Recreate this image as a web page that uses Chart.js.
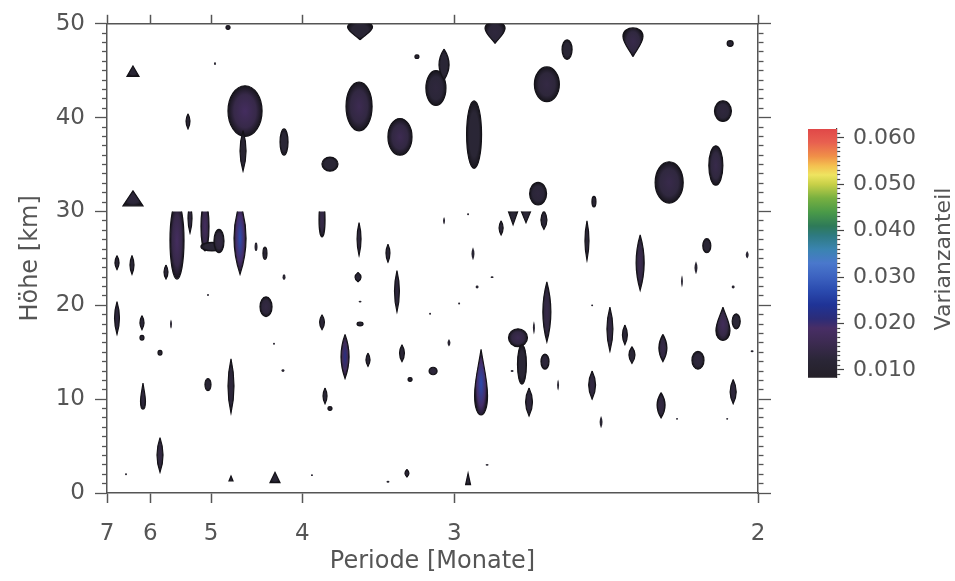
<!DOCTYPE html>
<html>
<head>
<meta charset="utf-8">
<script src="https://cdn.jsdelivr.net/npm/chart.js@4.4.1/dist/chart.umd.min.js"></script>
<style>
  html, body { margin: 0; padding: 0; background: #fff; }
  #wrap { position: relative; width: 955px; height: 581px; }
  #haupt { position: absolute; left: 0; top: 0; }
  #skala { position: absolute; left: 790px; top: 100px; }
</style>
</head>
<body>
<div id="wrap">
  <canvas id="haupt" width="955" height="581"></canvas>
  <canvas id="skala" width="165" height="300"></canvas>
</div>
<script>
// Achsen
var perioden = [7, 6, 5, 4, 3, 2];              // Periode [Monate], x-Achse linear in 1/Periode
var hoehenMin = 0, hoehenMax = 50;              // Höhe [km]
var skalaTicks = [0.010, 0.020, 0.030, 0.040, 0.050, 0.060];
var skalaMin = 0.0083, skalaMax = 0.0619;

// Farbskala Varianzanteil
var skalaWerte  = [0.0083, 0.012, 0.016, 0.019, 0.021, 0.024, 0.027, 0.030, 0.033, 0.036,
                   0.039, 0.041, 0.044, 0.047, 0.050, 0.052, 0.054, 0.056, 0.059, 0.0619];
var skalaFarben = ['#242028', '#2a2636', '#3d2b52', '#482e66', '#2c2c78', '#1f3396', '#2a4aae', '#3c62c0', '#4a78cc', '#3a84b0',
                   '#2e7a80', '#2e7a58', '#4a9a48', '#78b040', '#c8d048', '#eee460', '#f4c050', '#f09048', '#e86050', '#e04848'];

// Konturflecken (Varianzanteil > 0.010): Periode [Monate], Höhe unten/oben [km], Breite [1/Monat], Wert, Umriss
var fleckPeriode = [6.365, 5.339, 4.575, 4.598, 4.167, 6.365, 4.948, 3.550, 2.811, 2.530,
  3.196, 3.093, 3.051, 3.557, 3.294, 2.905, 2.603, 3.771, 2.636, 2.439,
  2.318, 2.063, 2.080, 2.097, 2.216, 4.779, 5.517, 5.308, 5.086, 4.989,
  4.895, 4.633, 4.452, 4.357, 4.167, 6.741, 6.387, 5.707, 6.741, 6.171,
  6.171, 5.816, 5.619, 6.150, 5.816, 5.044, 4.742, 4.742, 4.346, 4.255,
  6.524, 5.044, 4.177, 4.265, 3.917, 3.834, 3.557, 3.367, 3.564, 3.312,
  3.051, 2.933, 2.910, 2.824, 2.891, 2.735, 2.683, 2.785, 2.614, 2.462,
  2.603, 3.834, 3.550, 3.550, 3.657, 3.496, 3.282, 3.235, 3.108, 3.026,
  3.124, 2.976, 2.873, 2.715, 2.699, 2.652, 2.610, 2.562, 2.671, 2.739,
  3.810, 3.771, 2.445, 2.416, 2.388, 2.445, 3.253, 3.367, 2.933, 2.846,
  2.297, 2.119, 2.146, 2.182, 2.024, 2.056, 2.342, 2.321, 2.233, 2.141,
  2.080, 2.049, 2.238, 2.056, 2.195, 2.070, 2.013];
var fleckUnten = [44.4, 38.8, 38.0, 34.3, 36.0, 30.6, 45.6, 48.3, 47.9, 46.2,
  46.3, 41.3, 44.0, 38.6, 36.0, 34.6, 41.7, 34.3, 30.7, 30.5,
  46.5, 47.6, 39.6, 32.8, 30.9, 49.4, 22.8, 27.7, 25.8, 25.8,
  25.6, 23.3, 25.8, 24.9, 22.7, 23.8, 23.3, 22.8, 16.9, 17.4,
  16.3, 14.7, 17.5, 8.8, 2.2, 10.9, 8.5, 1.3, 18.8, 1.1,
  1.9, 21.0, 12.9, 15.8, 1.8, 27.3, 25.3, 24.6, 22.5, 19.3,
  28.6, 29.6, 24.8, 22.9, 21.8, 28.6, 28.8, 27.5, 28.1, 24.8,
  16.1, 17.4, 20.3, 17.8, 12.2, 13.5, 14.0, 11.9, 12.6, 15.6,
  19.0, 20.1, 8.0, 15.6, 11.6, 16.9, 13.2, 10.9, 8.2, 12.9,
  9.5, 8.8, 10.0, 6.9, 15.1, 19.9, 1.7, 1.1, 0.9, 2.9,
  21.6, 25.6, 23.3, 21.9, 25.0, 21.8, 15.8, 13.8, 14.0, 13.2,
  16.1, 17.5, 8.0, 9.5, 7.8, 7.8, 15.0];
var fleckOben = [45.5, 40.4, 43.4, 38.6, 38.8, 32.2, 45.9, 50.3, 50.3, 48.3,
  46.7, 45.0, 47.3, 43.8, 39.9, 41.8, 45.4, 35.8, 33.1, 31.6,
  49.7, 48.2, 41.8, 37.0, 35.3, 49.8, 31.0, 30.8, 31.0, 26.7,
  28.1, 31.0, 26.7, 26.2, 23.3, 25.3, 25.3, 24.3, 20.4, 18.9,
  16.8, 15.2, 18.5, 11.7, 5.9, 12.2, 14.3, 1.8, 20.9, 2.2,
  2.1, 21.2, 13.2, 16.0, 2.0, 31.0, 28.8, 26.5, 23.5, 23.7,
  29.4, 29.8, 26.2, 23.1, 22.1, 30.1, 30.1, 29.0, 30.1, 29.0,
  22.5, 19.0, 20.5, 18.2, 16.9, 14.9, 15.8, 12.3, 13.4, 16.4,
  19.2, 20.3, 15.3, 17.5, 15.8, 18.3, 14.8, 12.1, 11.2, 13.1,
  11.2, 9.2, 13.0, 8.2, 19.8, 20.1, 2.5, 1.3, 2.1, 3.1,
  27.5, 27.1, 24.7, 23.2, 25.8, 22.1, 17.9, 15.6, 16.9, 15.1,
  19.8, 19.1, 10.7, 12.1, 8.0, 8.0, 15.2];
var fleckBreite = [0.0066, 0.0022, 0.0187, 0.0033, 0.0044, 0.0110, 0.0011, 0.0137, 0.0110, 0.0055,
  0.0022, 0.0110, 0.0055, 0.0143, 0.0132, 0.0082, 0.0137, 0.0088, 0.0093, 0.0022,
  0.0110, 0.0033, 0.0093, 0.0077, 0.0154, 0.0022, 0.0077, 0.0022, 0.0044, 0.0121,
  0.0055, 0.0066, 0.0016, 0.0022, 0.0016, 0.0022, 0.0022, 0.0022, 0.0027, 0.0022,
  0.0022, 0.0022, 0.0011, 0.0027, 0.0033, 0.0033, 0.0033, 0.0022, 0.0066, 0.0055,
  0.0011, 0.0011, 0.0016, 0.0011, 0.0011, 0.0033, 0.0022, 0.0022, 0.0033, 0.0027,
  0.0011, 0.0011, 0.0016, 0.0016, 0.0016, 0.0055, 0.0055, 0.0022, 0.0033, 0.0022,
  0.0044, 0.0027, 0.0016, 0.0033, 0.0044, 0.0022, 0.0027, 0.0022, 0.0044, 0.0016,
  0.0011, 0.0011, 0.0071, 0.0104, 0.0049, 0.0011, 0.0044, 0.0011, 0.0038, 0.0016,
  0.0022, 0.0022, 0.0038, 0.0016, 0.0033, 0.0011, 0.0022, 0.0016, 0.0027, 0.0016,
  0.0044, 0.0044, 0.0016, 0.0011, 0.0016, 0.0016, 0.0027, 0.0033, 0.0044, 0.0066,
  0.0077, 0.0044, 0.0044, 0.0033, 0.0011, 0.0011, 0.0016];
var fleckWert = [0.012, 0.011, 0.018, 0.011, 0.012, 0.013, 0.010, 0.012, 0.013, 0.012,
  0.011, 0.013, 0.012, 0.016, 0.016, 0.012, 0.014, 0.012, 0.013, 0.011,
  0.015, 0.011, 0.013, 0.015, 0.015, 0.011, 0.018, 0.013, 0.018, 0.012,
  0.014, 0.027, 0.011, 0.011, 0.011, 0.012, 0.012, 0.012, 0.013, 0.012,
  0.011, 0.011, 0.010, 0.013, 0.014, 0.012, 0.013, 0.011, 0.014, 0.012,
  0.010, 0.010, 0.011, 0.010, 0.010, 0.015, 0.013, 0.012, 0.012, 0.013,
  0.010, 0.010, 0.011, 0.010, 0.011, 0.012, 0.012, 0.012, 0.012, 0.012,
  0.015, 0.012, 0.010, 0.011, 0.022, 0.012, 0.012, 0.011, 0.013, 0.011,
  0.010, 0.010, 0.027, 0.016, 0.012, 0.010, 0.013, 0.010, 0.013, 0.010,
  0.012, 0.011, 0.014, 0.011, 0.014, 0.010, 0.012, 0.010, 0.012, 0.010,
  0.016, 0.012, 0.011, 0.011, 0.011, 0.010, 0.012, 0.012, 0.015, 0.013,
  0.017, 0.012, 0.014, 0.013, 0.010, 0.010, 0.010];
// e = Ellipse, s = Spindel, t = Dreieck, u = Dreieck nach unten, v = Tropfen nach unten, a = Tropfen nach oben
var fleckForm = ['t','s','e','s','e','t','e','v','v','e',
  'e','e','s','e','e','e','e','e','e','e',
  'v','e','e','e','e','e','e','s','e','e',
  'e','s','e','e','e','s','s','s','s','s',
  'e','e','s','a','s','e','s','t','e','t',
  'e','e','e','e','e','e','s','s','s','s',
  's','e','s','e','e','u','u','s','s','s',
  's','s','e','e','s','s','s','e','e','s',
  'e','e','a','e','e','s','e','s','s','e',
  's','e','s','s','s','e','s','e','t','e',
  's','e','s','s','s','e','s','s','s','e',
  'a','e','s','s','e','e','e'];

var schrift = 'DejaVu Sans';
var grau = '#555';

function hexRgb(h) {
  return [parseInt(h.substr(1, 2), 16), parseInt(h.substr(3, 2), 16), parseInt(h.substr(5, 2), 16)];
}

// Farbe zum Varianzanteil aus der Farbskala
function farbe(v) {
  if (v <= skalaWerte[0]) return skalaFarben[0];
  for (var i = 1; i < skalaWerte.length; i++) {
    if (v <= skalaWerte[i]) {
      var t = (v - skalaWerte[i - 1]) / (skalaWerte[i] - skalaWerte[i - 1]);
      var a = hexRgb(skalaFarben[i - 1]), b = hexRgb(skalaFarben[i]);
      return 'rgb(' + Math.round(a[0] + (b[0] - a[0]) * t) + ',' + Math.round(a[1] + (b[1] - a[1]) * t) + ',' + Math.round(a[2] + (b[2] - a[2]) * t) + ')';
    }
  }
  return skalaFarben[skalaFarben.length - 1];
}

// Umriss im Einheitsquadrat [-1,1]
function formPfad(ctx, form) {
  ctx.beginPath();
  if (form === 's') {
    ctx.moveTo(0, -1); ctx.quadraticCurveTo(2, 0, 0, 1); ctx.quadraticCurveTo(-2, 0, 0, -1);
  } else if (form === 't') {
    ctx.moveTo(0, -1); ctx.lineTo(1, 1); ctx.lineTo(-1, 1); ctx.closePath();
  } else if (form === 'u') {
    ctx.moveTo(-1, -1); ctx.lineTo(1, -1); ctx.lineTo(0, 1); ctx.closePath();
  } else if (form === 'v') {
    ctx.moveTo(0, 1);
    ctx.bezierCurveTo(0.4, 0.5, 1, 0.1, 1, -0.35);
    ctx.bezierCurveTo(1, -1.1, -1, -1.1, -1, -0.35);
    ctx.bezierCurveTo(-1, 0.1, -0.4, 0.5, 0, 1);
  } else if (form === 'a') {
    ctx.moveTo(0, -1);
    ctx.bezierCurveTo(0.4, -0.5, 1, -0.1, 1, 0.35);
    ctx.bezierCurveTo(1, 1.1, -1, 1.1, -1, 0.35);
    ctx.bezierCurveTo(-1, -0.1, -0.4, -0.5, 0, -1);
  } else {
    ctx.ellipse(0, 0, 1, 1, 0, 0, Math.PI * 2);
  }
}

// zeichnet die Konturflecken an den Punkten des Datensatzes
var fleckenPlugin = {
  id: 'flecken',
  afterDatasetsDraw: function(chart) {
    var ctx = chart.ctx, a = chart.chartArea;
    var x = chart.scales.x, y = chart.scales.y;
    var grenze = y.getPixelForValue(30);
    var meta = chart.getDatasetMeta(0);
    meta.data.forEach(function(pt, i) {
      var f = 1 / fleckPeriode[i];
      var hb = Math.max((x.getPixelForValue(f + fleckBreite[i] / 2) - x.getPixelForValue(f - fleckBreite[i] / 2)) / 2, 0.9);
      var hh = Math.max((y.getPixelForValue(fleckUnten[i]) - y.getPixelForValue(fleckOben[i])) / 2, 0.9);
      var mitte = (fleckUnten[i] + fleckOben[i]) / 2;
      ctx.save();
      ctx.beginPath();
      if (mitte < 30) ctx.rect(a.left, grenze, a.right - a.left, a.bottom - grenze);
      else ctx.rect(a.left, a.top, a.right - a.left, grenze - a.top);
      ctx.clip();
      ctx.translate(pt.x, pt.y);
      ctx.scale(hb, hh);
      formPfad(ctx, fleckForm[i]);
      var g = ctx.createRadialGradient(0, 0, 0, 0, 0, 1);
      g.addColorStop(0, farbe(fleckWert[i]));
      g.addColorStop(0.65, farbe((fleckWert[i] + 0.0115) / 2));
      g.addColorStop(1, '#17151c');
      ctx.fillStyle = g;
      ctx.fill();
      // dunkler Rand, unabhängig von der Skalierung
      ctx.setTransform(1, 0, 0, 1, 0, 0);
      if (hb > 1.5 && hh > 1.5) {
        ctx.lineWidth = 1.2;
        ctx.strokeStyle = '#141218';
        ctx.stroke();
      }
      ctx.restore();
    });
  }
};

function periodenTicks(s) {
  s.ticks = perioden.map(function(p) { return { value: 1 / p }; });
}
function hoehenTicks(s) {
  var t = [];
  for (var k = hoehenMin; k <= hoehenMax; k++) t.push({ value: k });
  s.ticks = t;
}
function istHaupt(c) { return c.tick && c.tick.value % 10 === 0; }
function istSkalaHaupt(c) { return c.tick && Math.round(c.tick.value * 1000) % 10 === 0; }

var punkte = fleckPeriode.map(function(p, i) {
  return { x: 1 / p, y: (fleckUnten[i] + fleckOben[i]) / 2 };
});

new Chart(document.getElementById('haupt'), {
  type: 'scatter',
  data: { datasets: [{ data: punkte, pointRadius: 0, pointHoverRadius: 0 }] },
  options: {
    responsive: false,
    animation: false,
    devicePixelRatio: 1,
    events: [],
    plugins: { legend: { display: false }, tooltip: { enabled: false } },
    scales: {
      x: {
        type: 'linear', position: 'bottom', min: 1 / 7, max: 1 / 2,
        afterBuildTicks: periodenTicks,
        afterFit: function(s) { s.height = 88; },
        ticks: {
          autoSkip: false, maxRotation: 0, padding: 17, color: grau,
          font: { family: schrift, size: 23 },
          callback: function(v) { return String(Math.round(1 / v)); }
        },
        grid: { drawOnChartArea: false, tickLength: 10, tickColor: grau, tickWidth: 1.5 },
        border: { color: grau, width: 1.5 },
        title: { display: true, text: 'Periode [Monate]', color: grau, font: { family: schrift, size: 24 }, padding: { top: 0, bottom: 5 } }
      },
      x2: {
        type: 'linear', position: 'top', min: 1 / 7, max: 1 / 2,
        afterBuildTicks: periodenTicks,
        afterFit: function(s) { s.height = 19; },
        ticks: { display: false },
        grid: { drawOnChartArea: false, tickLength: 9, tickColor: grau, tickWidth: 1.5 },
        border: { color: grau, width: 1.5 }
      },
      y: {
        type: 'linear', position: 'left', min: hoehenMin, max: hoehenMax,
        afterBuildTicks: hoehenTicks,
        afterFit: function(s) { s.width = 107; },
        ticks: {
          autoSkip: false, padding: 10, color: grau,
          font: { family: schrift, size: 23 },
          callback: function(v) { return v % 10 === 0 ? String(v) : ''; }
        },
        grid: {
          drawOnChartArea: false, tickLength: 12, tickColor: grau, tickWidth: 1.3,
          tickBorderDash: function(c) { return istHaupt(c) ? [] : [5, 7]; },
          tickBorderDashOffset: function(c) { return istHaupt(c) ? 0 : 5; }
        },
        border: { color: grau, width: 1.5 },
        title: { display: true, text: 'Höhe [km]', color: grau, font: { family: schrift, size: 24 }, padding: { top: 16, bottom: 0 } }
      },
      yR: {
        type: 'linear', position: 'right', min: hoehenMin, max: hoehenMax,
        afterBuildTicks: hoehenTicks,
        afterFit: function(s) { s.width = 197; },
        ticks: { display: false },
        grid: {
          drawOnChartArea: false, tickLength: 13, tickColor: grau, tickWidth: 1.3,
          tickBorderDash: function(c) { return istHaupt(c) ? [] : [5, 100]; }
        },
        border: { color: grau, width: 1.5 }
      }
    }
  },
  plugins: [fleckenPlugin]
});

// Farbskala
var skalaTitel = {
  id: 'skalaTitel',
  afterDraw: function(chart) {
    var ctx = chart.ctx;
    ctx.save();
    ctx.translate(154, 159);
    ctx.rotate(-Math.PI / 2);
    ctx.font = '22px "' + schrift + '"';
    ctx.fillStyle = grau;
    ctx.textAlign = 'center';
    ctx.textBaseline = 'middle';
    ctx.fillText('Varianzanteil', 0, 0);
    ctx.restore();
  }
};

function skalaVerlauf(c) {
  var chart = c.chart, a = chart.chartArea;
  if (!a) return skalaFarben[0];
  var y = chart.scales.y;
  var y0 = y.getPixelForValue(skalaMin), y1 = y.getPixelForValue(skalaMax);
  var g = chart.ctx.createLinearGradient(0, y0, 0, y1);
  skalaWerte.forEach(function(v, i) {
    var pos = (y0 - y.getPixelForValue(v)) / (y0 - y1);
    g.addColorStop(Math.min(Math.max(pos, 0), 1), skalaFarben[i]);
  });
  return g;
}

new Chart(document.getElementById('skala'), {
  type: 'bar',
  data: {
    labels: [''],
    datasets: [{ data: [[skalaMin, skalaMax]], backgroundColor: skalaVerlauf, borderWidth: 0, barPercentage: 1, categoryPercentage: 1 }]
  },
  options: {
    responsive: false,
    animation: false,
    devicePixelRatio: 1,
    events: [],
    layout: { padding: { left: 18, top: 29, bottom: 15, right: 0 } },
    plugins: { legend: { display: false }, tooltip: { enabled: false } },
    scales: {
      x: { display: false },
      y: {
        position: 'right', min: skalaMin, max: skalaMax,
        afterBuildTicks: function(s) {
          var t = [];
          for (var k = 9; k <= 61; k++) t.push({ value: k / 1000 });
          s.ticks = t;
        },
        afterFit: function(s) { s.width = 118; },
        ticks: {
          autoSkip: false, padding: 9, color: grau,
          font: { family: schrift, size: 22 },
          callback: function(v) { return Math.round(v * 1000) % 10 === 0 ? v.toFixed(3) : ''; }
        },
        grid: {
          drawOnChartArea: false, tickLength: 7, tickColor: '#444', tickWidth: 1.2,
          tickBorderDash: function(c) { return istSkalaHaupt(c) ? [] : [3, 100]; }
        },
        border: { color: '#444', width: 1.2 }
      }
    }
  },
  plugins: [skalaTitel]
});
</script>
</body>
</html>
